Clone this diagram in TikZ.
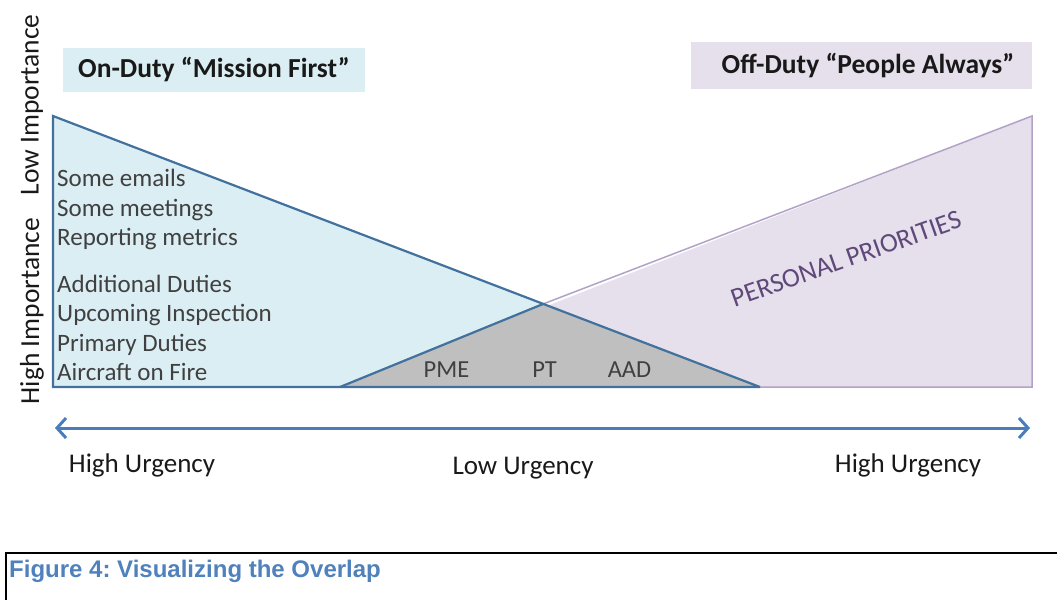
\documentclass[tikz,border=0pt]{standalone}
\usepackage{fontspec}
\setmainfont{Carlito}
\newfontfamily\capfont{Liberation Sans}
\usetikzlibrary{arrows.meta}
\frenchspacing
\definecolor{bfill}{HTML}{DBEEF4}
\definecolor{bline}{HTML}{41719C}
\definecolor{pfill}{HTML}{E6E0EC}
\definecolor{pline}{HTML}{B3A2C7}
\definecolor{gfill}{HTML}{BFBFBF}
\definecolor{txtgray}{HTML}{404040}
\definecolor{ptext}{HTML}{5F497A}
\definecolor{arrowblue}{HTML}{4A7EBB}
\definecolor{capblue}{HTML}{4F81BD}
\tikzset{
  listitem/.style={anchor=base west, inner sep=0pt, text=txtgray, font=\fontsize{25}{28}\selectfont},
  tag/.style={anchor=base, inner sep=0pt, text=txtgray, font=\fontsize{24.5}{28}\selectfont},
  urg/.style={anchor=base, inner sep=0pt, text=black!90, font=\fontsize{27}{30}\selectfont},
  axislbl/.style={rotate=90, inner sep=0pt, text=black!90, font=\fontsize{27.5}{30}\selectfont},
  titlebox/.style={font=\bfseries\fontsize{27.5}{30}\selectfont, text=black!90, inner sep=0pt}
}
\begin{document}
\begin{tikzpicture}[x=1pt,y=-1pt]
\useasboundingbox (0,0) rectangle (1057,600);
% triangle corners
\coordinate (btop) at (53,116);
\coordinate (bbl) at (53,387);
\coordinate (bbr) at (760,387);
\coordinate (ptop) at (1032,116);
\coordinate (pbr) at (1032,387);
\coordinate (pbl) at (340,387);
\coordinate (apex) at (543,304);
% purple triangle
\fill[pfill] (pbl) -- (ptop) -- (pbr) -- cycle;
% blue triangle
\fill[bfill] (btop) -- (bbl) -- (bbr) -- cycle;
% gray overlap
\fill[gfill] (pbl) -- (apex) -- (bbr) -- cycle;
% outlines
\draw[pline, line width=1.5pt, line join=miter] (apex) -- (ptop) -- (pbr) -- (bbr);
\draw[bline, line width=2.2pt, line join=miter] (bbr) -- (btop) -- (bbl) -- (bbr);
\draw[bline, line width=2.2pt] (pbl) -- (apex);
% title boxes
\fill[bfill] (63,48) rectangle (365,92);
\fill[pfill] (691,42) rectangle (1032,89);
\node[titlebox] (ontitle) at (214,70) {On-Duty “Mission First”};
\node[titlebox] (offtitle) at (868,66) {Off-Duty “People Always”};
% axis labels
\node[axislbl] (hi) at (32,311) {High Importance};
\node[axislbl] (lo) at (32,105) {Low Importance};
% list
\node[listitem] (l1) at (57,186) {Some emails};
\node[listitem] (l2) at (57,216) {Some meetings};
\node[listitem] (l3) at (57,245) {Reporting metrics};
\node[listitem] (l4) at (57,292) {Additional Duties};
\node[listitem] (l5) at (57,321) {Upcoming Inspection};
\node[listitem] (l6) at (57,351) {Primary Duties};
\node[listitem] (l7) at (57,380) {Aircraft on Fire};
% overlap tags
\node[tag] (pme) at (446.5,377) {PME};
\node[tag] (pt) at (544.5,377) {PT};
\node[tag] (aad) at (629.5,377) {AAD};
% personal priorities
\node[rotate=19.5, text=ptext, inner sep=0pt, font=\fontsize{27}{30}\selectfont] (pp) at (846,259) {PERSONAL PRIORITIES};
% urgency axis
\coordinate (al) at (55,428);
\coordinate (ar) at (1030,428);
\draw[arrowblue, line width=3pt, {Straight Barb[length=9pt,width=20pt]}-{Straight Barb[length=9pt,width=20pt]}] (al) -- (ar);
\node[urg] (u1) at (142,472) {High Urgency};
\node[urg] (u2) at (523,474) {Low Urgency};
\node[urg] (u3) at (908,472) {High Urgency};
% caption frame
\coordinate (fb) at (6,600);
\coordinate (ft) at (6,553);
\coordinate (fr) at (1057,553);
\draw[black, line width=1.5pt] (fb) -- (ft) -- (fr);
\node[anchor=base west, inner sep=0pt, text=capblue, font=\capfont\bfseries\fontsize{24}{28}\selectfont] (cap) at (9,577) {Figure 4: Visualizing the Overlap};
\end{tikzpicture}
\end{document}
